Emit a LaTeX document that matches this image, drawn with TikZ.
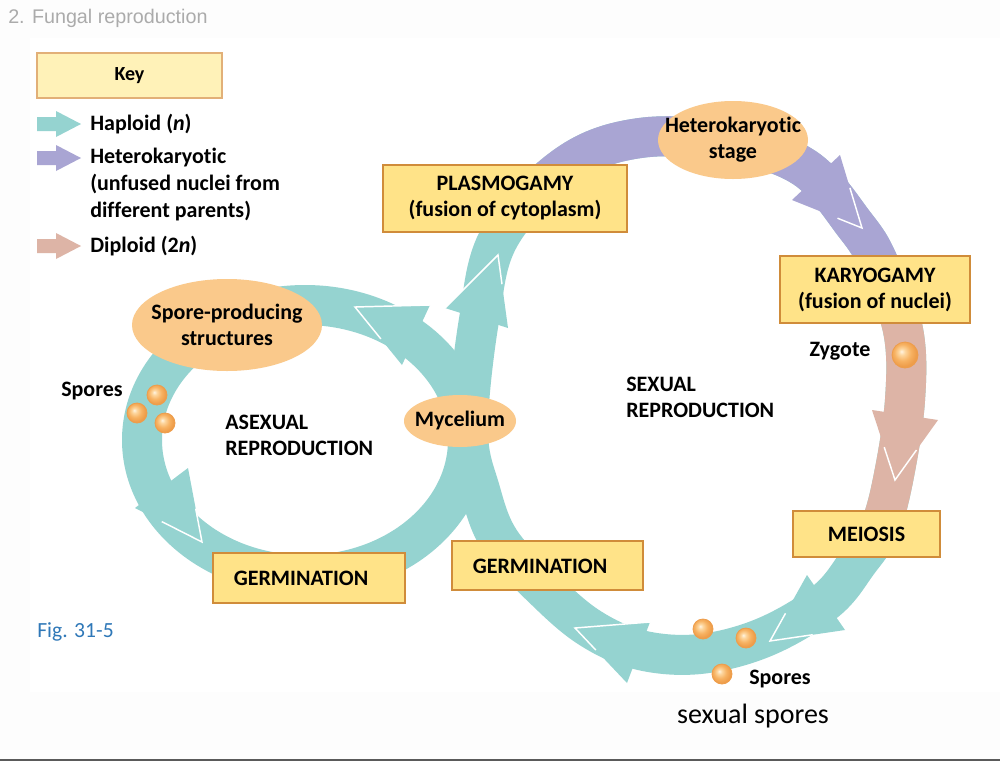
\documentclass[tikz,border=0pt]{standalone}
\usepackage{fontspec}
\setmainfont{Carlito}[Ligatures=NoCommon]
\newfontfamily\titlefont{Liberation Sans}
\usetikzlibrary{calc,shapes.geometric}
\definecolor{tealband}{HTML}{95D3D0}
\definecolor{purpleband}{HTML}{A9A5D3}
\definecolor{pinkband}{HTML}{DDB4A6}
\definecolor{boxfill}{HTML}{FFE388}
\definecolor{boxedge}{HTML}{D08C3A}
\definecolor{keyfill}{HTML}{FFF2B8}
\definecolor{keyedge}{HTML}{E2B078}
\definecolor{blobfill}{HTML}{FAC98B}
\definecolor{sporehi}{HTML}{FFF4E2}
\definecolor{sporemid}{HTML}{FDD7A0}
\definecolor{sporeout}{HTML}{F7B262}
\definecolor{sporeedge}{HTML}{EE9D4A}
\definecolor{titlegray}{HTML}{ABABAB}
\definecolor{figblue}{HTML}{2F78B8}
\definecolor{bgoff}{HTML}{FDFDFD}
\definecolor{rulegray}{HTML}{5A5A5A}
\pgfdeclareradialshading{sporeshade}{\pgfqpoint{-7bp}{7bp}}{color(0bp)=(sporehi); color(6bp)=(sporemid); color(16bp)=(sporeout); color(25bp)=(sporeedge); color(50bp)=(sporeedge)}
\newcommand\sporeball[3]{\shade[shading=sporeshade] (#1,#2) circle[radius=#3];\draw[sporeedge,line width=0.6pt] (#1,#2) circle[radius=#3];}
\newcommand\bandhead[6]{\fill[#1] (#3) -- (#2) -- (#4) -- cycle;
  \draw[white,line width=1.1pt] ($(#2)!#5!(#3)$) -- (#2) -- ($(#2)!#6!(#4)$);}
\newcommand\keyarrow[2]{\fill[#2] (37,#1-7) -- (56,#1-7) -- (56,#1-13) -- (81,#1) -- (56,#1+13) -- (56,#1+7) -- (37,#1+7) -- cycle;}
\def\sexloop{plot[smooth cycle, tension=0.6] coordinates {(468,430) (479,320) (500,236) (567,165) (640,138) (730,142) (805,168) (855,225) (878,262) (903,330) (905,400) (893,480) (879,530) (858,562) (826,601) (765,637) (700,654) (640,650) (590,628) (545,590) (500,541) (480,490)}}
\begin{document}
\begin{tikzpicture}[x=0.75pt,y=-0.75pt,
  lbl/.style={font=\fontsize{16.5}{19.5}\selectfont\bfseries, align=center},
  stagebox/.style={draw=boxedge, fill=boxfill, line width=1.6pt, inner sep=0pt},
  blob/.style={ellipse, fill=blobfill, inner sep=0pt},
  band/.style={line width=30pt, line join=round}]
\useasboundingbox (0,0) rectangle (1000,761);
\fill[bgoff] (0,0) rectangle (1000,761);
\fill[white] (30,38) rectangle (1000,692);
\draw[rulegray, line width=1.5pt] (0,759.5) -- (1000,759.5);
\node[anchor=west, inner sep=0pt, text=titlegray, font=\titlefont\fontsize{14.8}{17}\selectfont] (title) at (8,18) {2. Fungal reproduction};
% key
\node[draw=keyedge, fill=keyfill, line width=1.4pt, minimum width=138.75pt, minimum height=33.75pt, inner sep=0pt, font=\fontsize{15}{18}\selectfont\bfseries] (keybox) at (129.5,75.5) {Key};
\keyarrow{124}{tealband}
\keyarrow{158}{purpleband}
\keyarrow{246}{pinkband}
\node[lbl, anchor=west, inner sep=0pt] (keyhap) at (90,124) {Haploid (\textit{n})};
\node[lbl, anchor=west, inner sep=0pt, align=left, font=\fontsize{16.5}{20.25}\selectfont\bfseries] (keyhet) at (90,185) {Heterokaryotic\\(unfused nuclei from\\different parents)};
\node[lbl, anchor=west, inner sep=0pt] (keydip) at (90,246) {Diploid (2\textit{n})};
% bands
\draw[tealband, band] (468,440) .. controls (468,365.4) and (395,305) .. (305,305) .. controls (215,305) and (142,365.4) .. (142,440) .. controls (142,514.6) and (215,575) .. (305,575) .. controls (395,575) and (468,514.6) .. (468,440) -- cycle;
\draw[tealband, band] \sexloop;
\begin{scope}
\clip (505,198) -- (505,0) -- (1000,0) -- (1000,289) -- (760,289) -- cycle;
\draw[purpleband, band] \sexloop;
\end{scope}
\begin{scope}
\clip (760,289) rectangle (1000,534);
\draw[pinkband, band] \sexloop;
\end{scope}
% arrow heads
\bandhead{tealband}{355,307}{430,305}{402,365}{1}{0.55}
\bandhead{tealband}{202,542}{135,508}{188,468}{0.6}{0.45}
\bandhead{tealband}{498,255}{445,308}{508,328}{1}{0.4}
\bandhead{purpleband}{862,228}{792,200}{840,155}{0.35}{0.55}
\bandhead{pinkband}{895,480}{872,410}{938,420}{0.47}{0.5}
\bandhead{tealband}{770,641}{807,575}{845,630}{0.42}{0.57}
\bandhead{tealband}{575,628}{650,622}{627,683}{1}{0.4}
% stage boxes
\node[stagebox, lbl, minimum width=183pt, minimum height=50.25pt] (plasmo) at (505,198.5) {PLASMOGAMY\\(fusion of cytoplasm)};
\node[stagebox, lbl, minimum width=142.5pt, minimum height=50.25pt] (karyo) at (875,289.5) {KARYOGAMY\\(fusion of nuclei)};
\node[stagebox, lbl, minimum width=110.25pt, minimum height=34.5pt] (meiosis) at (866.5,534) {MEIOSIS};
\node[stagebox, minimum width=143.25pt, minimum height=36.75pt] (germR) at (547.5,565.5) {};
\node[lbl] (germRtxt) at (540,566) {GERMINATION};
\node[stagebox, minimum width=144pt, minimum height=37.5pt] (germL) at (309,578) {};
\node[lbl] (germLtxt) at (301,578) {GERMINATION};
% ellipses
\node[blob, minimum width=112.5pt, minimum height=58.5pt] (hetero) at (733,140) {};
\node[lbl] (heterotxt) at (733,140) {Heterokaryotic\\stage};
\node[blob, minimum width=142.5pt, minimum height=69pt] (sporeprod) at (227,325) {};
\node[lbl] (sporeprodtxt) at (227,325) {Spore-producing\\structures};
\node[blob, minimum width=84pt, minimum height=39pt] (myc) at (460,421) {};
\node[lbl] (myctxt) at (460,421) {Mycelium};
% region labels
\node[lbl, anchor=west, inner sep=0pt, align=left] (asex) at (225,435) {ASEXUAL\\REPRODUCTION};
\node[lbl, anchor=west, inner sep=0pt, align=left] (sex) at (626,397) {SEXUAL\\REPRODUCTION};
\node[lbl] (sporesL) at (92,391) {Spores};
\node[lbl] (zygote) at (840,351) {Zygote};
\node[lbl] (sporesB) at (780,679) {Spores};
\node[font=\fontsize{21}{25}\selectfont] (sexspores) at (753,716) {sexual spores};
\node[anchor=west, inner sep=0pt, text=figblue, font=\fontsize{16.2}{19}\selectfont] (fig) at (37,632) {Fig. 31-5};
% spores
\sporeball{157}{395}{7.5pt}
\sporeball{137}{413}{7.5pt}
\sporeball{165}{423}{7.5pt}
\sporeball{905}{355}{9.75pt}
\sporeball{703}{629}{7.5pt}
\sporeball{746}{638}{7.5pt}
\sporeball{722}{674}{7.5pt}
\end{tikzpicture}
\end{document}
